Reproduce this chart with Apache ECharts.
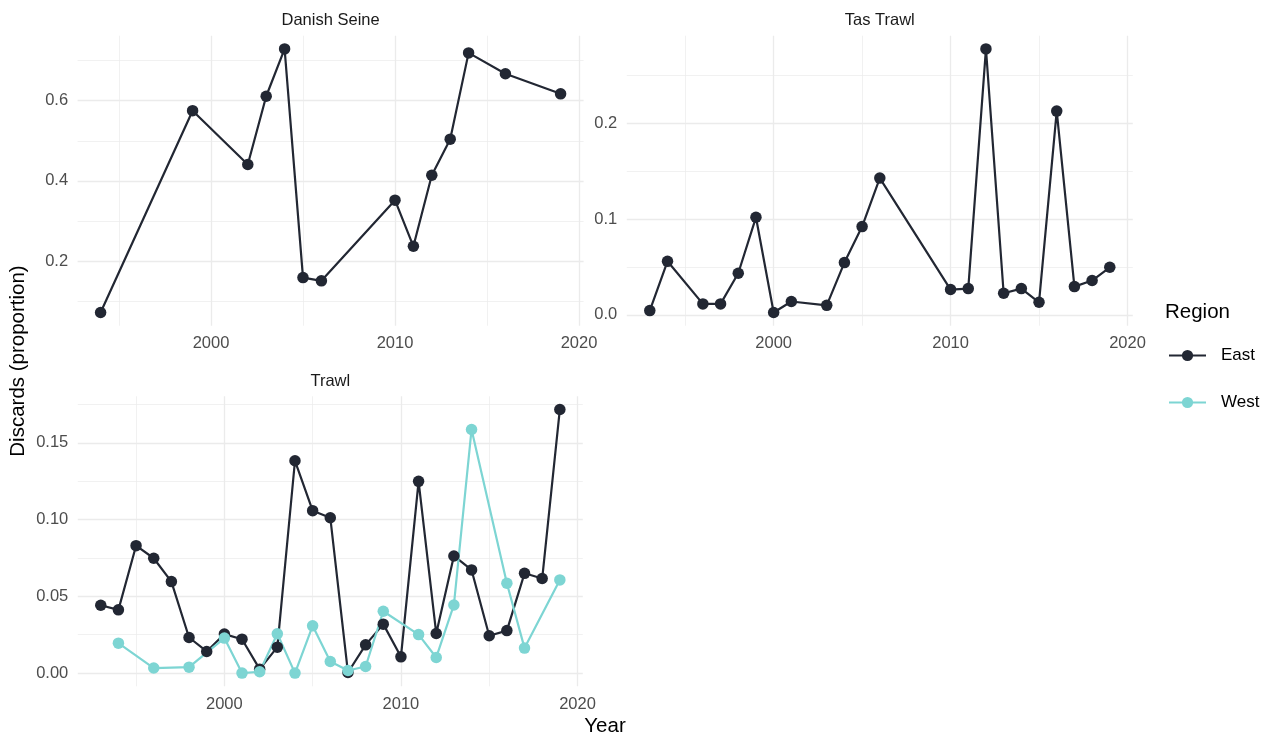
<!DOCTYPE html>
<html>
<head>
<meta charset="utf-8">
<script src="https://cdn.jsdelivr.net/npm/echarts@6/dist/echarts.min.js"></script>
<style>
  html, body { margin: 0; padding: 0; background: #ffffff; }
  #chart { width: 1274px; height: 736px; }
</style>
</head>
<body>
<div id="chart"></div>
<script>
// Discard proportions by gear type and region

// Danish Seine (East only)
const danishYears = [1994, 1999, 2002, 2003, 2004, 2005, 2006, 2010, 2011, 2012, 2013, 2014, 2016, 2019];
const danishEast  = [0.072, 0.575, 0.441, 0.611, 0.729, 0.159, 0.151, 0.352, 0.237, 0.414, 0.504, 0.719, 0.667, 0.617];

// Tas Trawl (East only)
const tasYears = [1993, 1994, 1996, 1997, 1998, 1999, 2000, 2001, 2003, 2004, 2005, 2006, 2010, 2011, 2012, 2013, 2014, 2015, 2016, 2017, 2018, 2019];
const tasEast  = [0.0045, 0.056, 0.0115, 0.0115, 0.0435, 0.102, 0.0025, 0.014, 0.010, 0.0547, 0.0923, 0.143, 0.0265, 0.0275, 0.278, 0.0226, 0.0275, 0.0132, 0.213, 0.0296, 0.0359, 0.0498];

// Trawl (East and West)
const trawlEastYears = [1993, 1994, 1995, 1996, 1997, 1998, 1999, 2000, 2001, 2002, 2003, 2004, 2005, 2006, 2007, 2008, 2009, 2010, 2011, 2012, 2013, 2014, 2015, 2016, 2017, 2018, 2019];
const trawlEast      = [0.0442, 0.0412, 0.083, 0.0748, 0.0596, 0.0232, 0.0141, 0.0254, 0.0221, 0.0026, 0.0169, 0.1383, 0.1058, 0.1012, 0.0004, 0.0184, 0.0319, 0.0106, 0.1249, 0.0258, 0.0763, 0.0672, 0.0243, 0.0277, 0.0650, 0.0616, 0.1717];
const trawlWestYears = [1994, 1996, 1998, 2000, 2001, 2002, 2003, 2004, 2005, 2006, 2007, 2008, 2009, 2011, 2012, 2013, 2014, 2016, 2017, 2019];
const trawlWest      = [0.0195, 0.0033, 0.0039, 0.0228, 0.0, 0.0009, 0.0256, 0.0, 0.0308, 0.0076, 0.0017, 0.0043, 0.0403, 0.0251, 0.0102, 0.0444, 0.1587, 0.0585, 0.0163, 0.0607];

// Axis breaks
const yearMajorTicks   = [2000, 2010, 2020];
const yearMinorTicks   = [1995, 2005, 2015];
const danishMajorTicks = [0.2, 0.4, 0.6];
const danishMinorTicks = [0.1, 0.3, 0.5, 0.7];
const tasMajorTicks    = [0.0, 0.1, 0.2];
const tasMinorTicks    = [0.05, 0.15, 0.25];
const trawlMajorTicks  = [0.00, 0.05, 0.10, 0.15];
const trawlMinorTicks  = [0.025, 0.075, 0.125, 0.175];

const regionColors = { East: '#222733', West: '#7dd5d3' };

// Limits padded by 5% of the data range on each side
function expandRange(values) {
  const lo = Math.min(...values), hi = Math.max(...values);
  const pad = (hi - lo) * 0.05;
  return [lo - pad, hi + pad];
}
function zip(xs, ys) { return xs.map((x, i) => [x, ys[i]]); }

const panels = [
  {
    title: 'Danish Seine',
    grid: { left: 77.6, top: 35.7, width: 506, height: 290 },
    xRange: expandRange(danishYears),
    yRange: expandRange(danishEast),
    yMajor: danishMajorTicks, yMinor: danishMinorTicks, digits: 1,
    lines: [{ name: 'East', data: zip(danishYears, danishEast) }]
  },
  {
    title: 'Tas Trawl',
    grid: { left: 626.8, top: 35.7, width: 506, height: 290 },
    xRange: expandRange(tasYears),
    yRange: expandRange(tasEast),
    yMajor: tasMajorTicks, yMinor: tasMinorTicks, digits: 1,
    lines: [{ name: 'East', data: zip(tasYears, tasEast) }]
  },
  {
    title: 'Trawl',
    grid: { left: 77.8, top: 396.3, width: 505, height: 290 },
    xRange: expandRange(trawlEastYears.concat(trawlWestYears)),
    yRange: expandRange(trawlEast.concat(trawlWest)),
    yMajor: trawlMajorTicks, yMinor: trawlMinorTicks, digits: 2,
    lines: [
      { name: 'East', data: zip(trawlEastYears, trawlEast) },
      { name: 'West', data: zip(trawlWestYears, trawlWest) }
    ]
  }
];

const labelFont = { fontFamily: 'Liberation Sans, Arial, sans-serif', fontSize: 16.5, color: '#4d4d4d' };
const gridColor = '#ebebeb';

const grids = [], xAxes = [], yAxes = [], series = [], graphics = [];

panels.forEach((p, i) => {
  grids.push(Object.assign({ containLabel: false }, p.grid));

  // major x axis (labels + major grid lines)
  xAxes.push({
    type: 'value', gridIndex: i, min: p.xRange[0], max: p.xRange[1], position: 'bottom',
    axisLine: { show: false },
    axisTick: { show: false, customValues: yearMajorTicks },
    axisLabel: Object.assign({ customValues: yearMajorTicks, margin: 9.5, formatter: v => String(v) }, labelFont),
    splitLine: { show: true, lineStyle: { color: gridColor, width: 1.3 } }
  });
  // minor x grid lines
  xAxes.push({
    type: 'value', gridIndex: i, min: p.xRange[0], max: p.xRange[1], position: 'top',
    axisLine: { show: false },
    axisTick: { show: false, customValues: yearMinorTicks },
    axisLabel: { show: false },
    splitLine: { show: true, lineStyle: { color: gridColor, width: 0.7 } }
  });
  // major y axis
  yAxes.push({
    type: 'value', gridIndex: i, min: p.yRange[0], max: p.yRange[1], position: 'left',
    axisLine: { show: false },
    axisTick: { show: false, customValues: p.yMajor },
    axisLabel: Object.assign({ customValues: p.yMajor, margin: 9.5, formatter: v => v.toFixed(p.digits) }, labelFont),
    splitLine: { show: true, lineStyle: { color: gridColor, width: 1.3 } }
  });
  // minor y grid lines
  yAxes.push({
    type: 'value', gridIndex: i, min: p.yRange[0], max: p.yRange[1], position: 'right',
    axisLine: { show: false },
    axisTick: { show: false, customValues: p.yMinor },
    axisLabel: { show: false },
    splitLine: { show: true, lineStyle: { color: gridColor, width: 0.7 } }
  });

  p.lines.forEach(l => {
    series.push({
      type: 'line', name: l.name, data: l.data,
      xAxisIndex: 2 * i, yAxisIndex: 2 * i,
      symbol: 'circle', symbolSize: 11.5, showSymbol: true,
      lineStyle: { color: regionColors[l.name], width: 2.2 },
      itemStyle: { color: regionColors[l.name] },
      emphasis: { disabled: true },
      animation: false
    });
  });

  // facet strip title
  graphics.push({
    type: 'text',
    x: p.grid.left + p.grid.width / 2, y: p.grid.top - 15,
    style: {
      text: p.title, fill: '#1a1a1a', align: 'center', verticalAlign: 'middle',
      font: '16.5px "Liberation Sans", Arial, sans-serif'
    }
  });
});

// axis titles
graphics.push({
  type: 'text', x: 605, y: 726,
  style: { text: 'Year', fill: '#000', align: 'center', verticalAlign: 'middle',
           font: '20.5px "Liberation Sans", Arial, sans-serif' }
});
graphics.push({
  type: 'text', x: 18, y: 361, rotation: Math.PI / 2,
  style: { text: 'Discards (proportion)', fill: '#000', align: 'center', verticalAlign: 'middle',
           font: '20.5px "Liberation Sans", Arial, sans-serif' }
});
// legend title
graphics.push({
  type: 'text', x: 1165, y: 312,
  style: { text: 'Region', fill: '#000', align: 'left', verticalAlign: 'middle',
           font: '20.5px "Liberation Sans", Arial, sans-serif' }
});

const chart = echarts.init(document.getElementById('chart'), null, { renderer: 'canvas' });
chart.setOption({
  animation: false,
  backgroundColor: '#ffffff',
  grid: grids,
  xAxis: xAxes,
  yAxis: yAxes,
  series: series,
  graphic: graphics,
  legend: {
    data: ['East', 'West'],
    orient: 'vertical',
    left: 1163, top: 342,
    itemWidth: 37, itemHeight: 14, itemGap: 30,
    selectedMode: false,
    textStyle: { fontFamily: 'Liberation Sans, Arial, sans-serif', fontSize: 17, color: '#000', padding: [0, 0, 0, 10] }
  },
  tooltip: { show: false }
});
</script>
</body>
</html>
